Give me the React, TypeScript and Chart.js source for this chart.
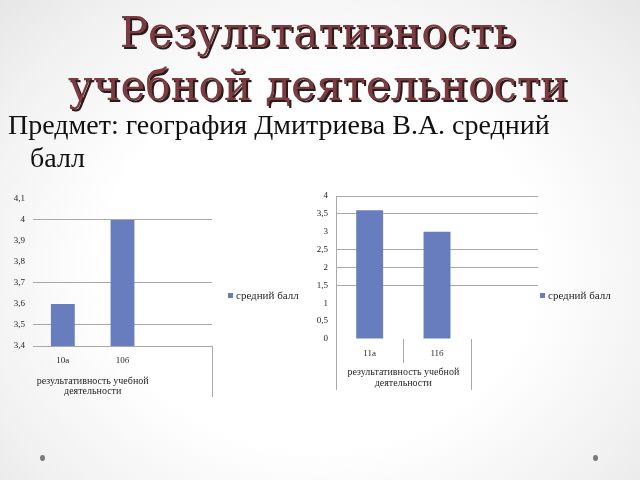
import { useEffect, useRef } from 'react';
import { Chart, registerables } from 'chart.js';

Chart.register(...registerables);

const seriesLabel = 'средний балл';
const groupLabel = ['результативность учебной', 'деятельности'];

// left chart (10th grade)
const leftClasses = ['10а', '10б', ''];
const leftScores = [3.6, 4, null];
const leftTicks = [3.4, 3.5, 3.6, 3.7, 3.8, 3.9, 4, 4.1];
const leftGridTicks = [3.4, 3.5, 3.7, 4];

// right chart (11th grade)
const rightClasses = ['11а', '11б', ''];
const rightScores = [3.6, 3, null];
const rightTicks = [0, 0.5, 1, 1.5, 2, 2.5, 3, 3.5, 4];
const rightGridTicks = [1.5, 2, 2.5, 3.5, 4];

const BAR = '#687dbd';
const GRID = '#a9a9a9';
const INK = '#262626';
const SERIF = '"Liberation Serif", "Times New Roman", serif';

const fmt = (v: number | string) => String(v).replace('.', ',');

type Sep = { at: number; depth: number };

type ChartProps = {
  classes: string[];
  scores: (number | null)[];
  ticks: number[];
  gridTicks: number[];
  box: { left: number; top: number; width: number; height: number };
  pad: { top: number; right: number };
  yWidth: number;
  xHeight: number;
  legendGap: number;
  legendY: number;
  yBorder: boolean;
  seps: Sep[];
  titleOffset: number;
  titleGap: number;
};

function ClassChart(p: ChartProps) {
  const canvasRef = useRef<HTMLCanvasElement | null>(null);

  useEffect(() => {
    const canvas = canvasRef.current;
    if (!canvas) return;

    // separators under the category axis, the group caption and the legend
    const groupPlugin = {
      id: 'classGroup',
      afterDraw(chart: Chart) {
        const x: any = chart.scales.x;
        const { ctx, chartArea } = chart;
        const half = (x.getPixelForValue(1) - x.getPixelForValue(0)) / 2;
        ctx.save();
        ctx.strokeStyle = GRID;
        ctx.lineWidth = 1;
        p.seps.forEach((s) => {
          const px = Math.round(x.getPixelForValue(s.at) - half) + 0.5;
          ctx.beginPath();
          ctx.moveTo(px, chartArea.bottom);
          ctx.lineTo(px, chartArea.bottom + s.depth);
          ctx.stroke();
        });
        ctx.fillStyle = INK;
        ctx.font = `10px ${SERIF}`;
        ctx.textAlign = 'center';
        ctx.textBaseline = 'middle';
        const cx = (x.getPixelForValue(0) + x.getPixelForValue(1)) / 2;
        groupLabel.forEach((line, i) =>
          ctx.fillText(line, cx, chartArea.bottom + p.titleOffset + i * p.titleGap)
        );

        // legend item
        const ds: any = chart.data.datasets[0];
        const lx = chartArea.right + p.legendGap;
        ctx.fillStyle = ds.backgroundColor;
        ctx.fillRect(lx, p.legendY - 3, 5, 5);
        ctx.fillStyle = INK;
        ctx.font = `11px ${SERIF}`;
        ctx.textAlign = 'left';
        ctx.fillText(ds.label, lx + 8, p.legendY);
        ctx.restore();
      },
    };

    const chart = new Chart(canvas, {
      type: 'bar',
      data: {
        labels: p.classes,
        datasets: [
          {
            label: seriesLabel,
            data: p.scores,
            backgroundColor: BAR,
            borderWidth: 0,
            barPercentage: 0.4,
            categoryPercentage: 1,
          },
        ],
      },
      options: {
        animation: false,
        responsive: false,
        maintainAspectRatio: false,
        layout: { padding: { left: 0, top: p.pad.top, right: p.pad.right, bottom: 0 } },
        plugins: {
          tooltip: { enabled: false },
          legend: { display: false },
        },
        scales: {
          x: {
            grid: { display: false, drawTicks: false },
            border: { display: false },
            ticks: { color: INK, padding: 9, font: { family: SERIF, size: 9 } },
            afterFit: (s: any) => {
              s.height = p.xHeight;
            },
          },
          y: {
            min: p.ticks[0],
            max: p.ticks[p.ticks.length - 1],
            afterBuildTicks: (s: any) => {
              s.ticks = p.ticks.map((v) => ({ value: v }));
            },
            afterFit: (s: any) => {
              s.width = p.yWidth;
            },
            grid: {
              color: (c: any) => (p.gridTicks.includes(c.tick?.value) ? GRID : 'rgba(0,0,0,0)'),
              tickColor: 'rgba(0,0,0,0)',
              drawTicks: true,
              tickLength: 8,
            },
            border: { display: p.yBorder, color: GRID },
            ticks: {
              color: INK,
              padding: 0,
              font: { family: SERIF, size: 9 },
              callback: (v: any) => fmt(v),
            },
          },
        },
      },
      plugins: [groupPlugin],
    });

    return () => chart.destroy();
  }, []);

  return (
    <canvas
      ref={canvasRef}
      width={p.box.width}
      height={p.box.height}
      style={{ position: 'absolute', left: p.box.left, top: p.box.top, width: p.box.width, height: p.box.height }}
    />
  );
}

export default function App() {
  return (
    <div
      style={{
        position: 'fixed',
        left: 0,
        top: 0,
        width: 640,
        height: 480,
        overflow: 'hidden',
        background: 'radial-gradient(ellipse 75% 85% at 50% 55%, #ffffff 45%, #f1f1f1 75%, #e2e2e2 100%)',
        fontFamily: SERIF,
      }}
    >
      <div
        style={{
          position: 'absolute',
          left: 0,
          top: 6,
          width: 636,
          textAlign: 'center',
          fontFamily: '"DejaVu Serif", serif',
          fontSize: 42,
          lineHeight: '53px',
          color: '#7b3c41',
          textShadow: '2px 2px 0 #2b1b1b',
        }}
      >
        Результативность
        <br />
        учебной деятельности
      </div>
      <div
        style={{
          position: 'absolute',
          left: 8,
          top: 108,
          fontSize: 28,
          lineHeight: '33px',
          color: '#111',
        }}
      >
        Предмет: география Дмитриева В.А. средний
        <br />
        <span style={{ paddingLeft: 22 }}>балл</span>
      </div>

      <ClassChart
        classes={leftClasses}
        scores={leftScores}
        ticks={leftTicks}
        gridTicks={leftGridTicks}
        box={{ left: 0, top: 190, width: 306, height: 214 }}
        pad={{ top: 9, right: 94 }}
        yWidth={33}
        xHeight={58}
        legendGap={16}
        legendY={106}
        yBorder={false}
        seps={[{ at: 3, depth: 51 }]}
        titleOffset={35}
        titleGap={10}
      />
      <ClassChart
        classes={rightClasses}
        scores={rightScores}
        ticks={rightTicks}
        gridTicks={rightGridTicks}
        box={{ left: 306, top: 188, width: 313, height: 216 }}
        pad={{ top: 8, right: 81 }}
        yWidth={30}
        xHeight={65}
        legendGap={2}
        legendY={108}
        yBorder={true}
        seps={[
          { at: 0, depth: 51 },
          { at: 1, depth: 24 },
          { at: 2, depth: 51 },
        ]}
        titleOffset={33}
        titleGap={11}
      />

      <div style={{ position: 'absolute', left: 40, top: 455, width: 5, height: 6, borderRadius: '50%', background: '#7a7a7a' }} />
      <div style={{ position: 'absolute', left: 593, top: 455, width: 5, height: 6, borderRadius: '50%', background: '#7a7a7a' }} />
    </div>
  );
}
